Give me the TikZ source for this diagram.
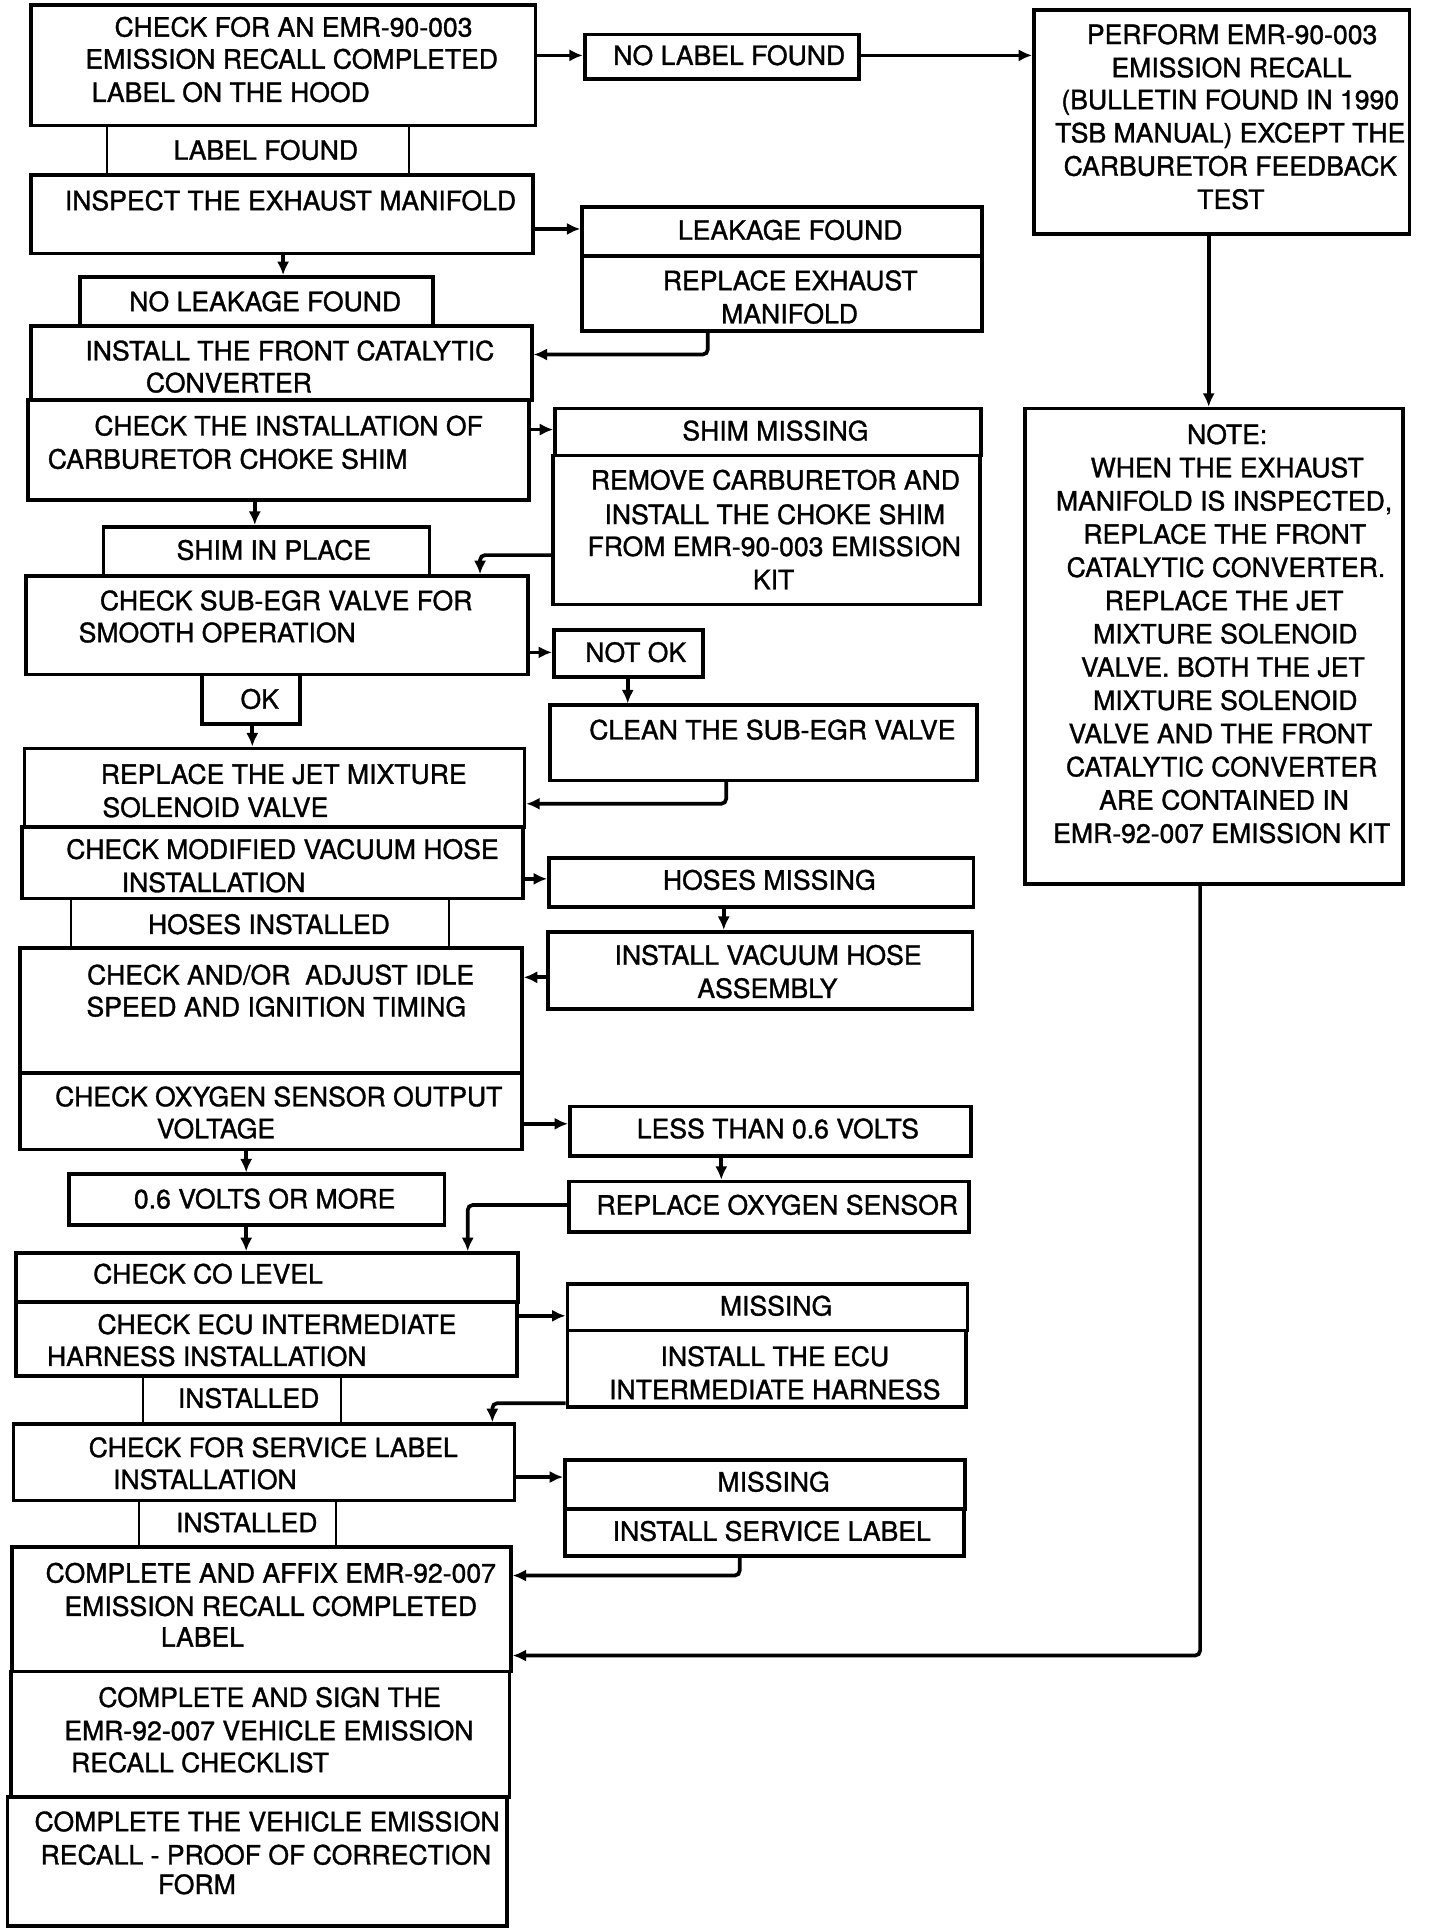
\documentclass[tikz,border=0pt]{standalone}
\usepackage{fontspec}
\setmainfont[FakeBold=1.2]{TeX Gyre Heros}
\usetikzlibrary{fit,arrows.meta}
\tikzset{
  mainbox/.style={draw, line width=1.5pt, inner sep=0pt},
  thinbox/.style={draw, line width=0.8pt, inner sep=0pt},
  txt/.style={anchor=base, inner sep=0pt, font=\fontsize{10.8}{13.35}\selectfont},
  arr/.style={line width=1.5pt, -{Latex[length=5.5pt,width=5pt]}, rounded corners=2pt},
}
\newcommand\bx[6][mainbox]{\node[#1, fit={(#3,#4)(#5,#6)}] (#2) {};}
\newcommand\tl[4]{\node[txt] (#1) at (#2,#3+7.75) {#4};}
\begin{document}
\begin{tikzpicture}[x=0.5pt,y=-0.5pt]
\useasboundingbox (0,0) rectangle (1170,1568);
% thin label boxes
\bx[thinbox]{LFd}{87}{102}{332}{142}
\bx[thinbox]{HI}{58}{730}{365}{770}
\bx[thinbox]{IN1}{116}{1118}{277}{1157}
\bx[thinbox]{IN2}{113}{1219}{273}{1257}
% left column
\bx{A}{25}{4}{435}{102}
\bx{B}{25}{142}{433}{206}
\bx{NLK}{65}{225}{352}{265}
\bx{C}{25}{265}{432}{325}
\bx{D}{23}{325}{430}{406}
\bx{SIP}{84}{428}{349}{468}
\bx{E}{21}{468}{429}{548}
\bx{OK}{164}{548}{244}{588}
\bx{F}{20}{608}{426}{672}
\bx{G}{18}{672}{425}{730}
\bx{H}{16}{770}{424}{872}
\bx{I}{16}{872}{424}{934}
\bx{V6}{56}{954}{361}{995}
\bx{J}{13}{1018}{421}{1058}
\bx{K}{13}{1058}{420}{1118}
\bx{L}{11}{1157}{418}{1219}
\bx{M}{10}{1257}{415}{1358}
\bx{N}{9}{1358}{414}{1460}
\bx{O}{6}{1460}{412}{1565}
% middle column
\bx{NLF}{475}{28}{698}{64}
\bx{LF}{473}{168}{798}{208}
\bx{RE}{473}{208}{798}{269}
\bx{SM}{451}{332}{797}{370}
\bx{RC}{449}{370}{796}{491}
\bx{NOK}{450}{512}{571}{550}
\bx{CL}{447}{573}{794}{634}
\bx{HM}{446}{697}{791}{737}
\bx{IVH}{445}{757}{790}{820}
\bx{LT}{463}{899}{789}{939}
\bx{RO}{462}{960}{787}{1001}
\bx{MS1}{461}{1043}{786}{1081}
\bx{IE}{461}{1081}{785}{1143}
\bx{MS2}{459}{1186}{784}{1226}
\bx{ISL}{459}{1226}{783}{1264}
% right column
\bx{P}{840}{8}{1145}{190}
\bx{Q}{833}{332}{1140}{718}

% texts left
\tl{ta1}{238.5}{22}{CHECK FOR AN EMR-90-003}
\tl{ta2}{237}{48}{EMISSION RECALL COMPLETED}
\tl{ta3}{187.5}{75}{LABEL ON THE HOOD}
\tl{tlf}{216}{122}{LABEL FOUND}
\tl{tb1}{236}{163}{INSPECT THE EXHAUST MANIFOLD}
\tl{tnlk}{215.5}{245}{NO LEAKAGE FOUND}
\tl{tc1}{235.5}{285}{INSTALL THE FRONT CATALYTIC}
\tl{tc2}{186}{311}{CONVERTER}
\tl{td1}{234.5}{346}{CHECK THE INSTALLATION OF}
\tl{td2}{185}{373}{CARBURETOR CHOKE SHIM}
\tl{tsip}{222.5}{447}{SHIM IN PLACE}
\tl{te1}{232.5}{488}{CHECK SUB-EGR VALVE FOR}
\tl{te2}{176.5}{514}{SMOOTH OPERATION}
\tl{tok}{211}{568}{OK}
\tl{tf1}{230.5}{629}{REPLACE THE JET MIXTURE}
\tl{tf2}{175}{656}{SOLENOID VALVE}
\tl{tg1}{229.5}{690}{CHECK MODIFIED VACUUM HOSE}
\tl{tg2}{173.5}{717}{INSTALLATION}
\tl{thi}{218.5}{751}{HOSES INSTALLED}
\tl{th1}{228}{792}{CHECK AND/OR\ \ ADJUST IDLE}
\tl{th2}{224.5}{818}{SPEED AND IGNITION TIMING}
\tl{ti1}{226.5}{891}{CHECK OXYGEN SENSOR OUTPUT}
\tl{ti2}{175.5}{917}{VOLTAGE}
\tl{tv6}{215}{974}{0.6 VOLTS OR MORE}
\tl{tj1}{169}{1035}{CHECK CO LEVEL}
\tl{tk1}{225}{1076}{CHECK ECU INTERMEDIATE}
\tl{tk2}{168}{1102}{HARNESS INSTALLATION}
\tl{tin1}{202}{1136}{INSTALLED}
\tl{tl1}{222}{1176}{CHECK FOR SERVICE LABEL}
\tl{tl2}{166.5}{1202}{INSTALLATION}
\tl{tin2}{200.5}{1237}{INSTALLED}
\tl{tm1}{220}{1278}{COMPLETE AND AFFIX EMR-92-007}
\tl{tm2}{220}{1305}{EMISSION RECALL COMPLETED}
\tl{tm3}{164.5}{1330}{LABEL}
\tl{tn1}{219}{1379}{COMPLETE AND SIGN THE}
\tl{tn2}{218.5}{1406}{EMR-92-007 VEHICLE EMISSION}
\tl{tn3}{162.5}{1432}{RECALL CHECKLIST}
\tl{to1}{217}{1480}{COMPLETE THE VEHICLE EMISSION}
\tl{to2}{216}{1507}{RECALL - PROOF OF CORRECTION}
\tl{to3}{160}{1531}{FORM}
% texts middle
\tl{tnlf}{592.5}{45}{NO LABEL FOUND}
\tl{tlfd}{642}{187}{LEAKAGE FOUND}
\tl{tre1}{642}{228}{REPLACE EXHAUST}
\tl{tre2}{641.5}{255}{MANIFOLD}
\tl{tsm}{630}{350}{SHIM MISSING}
\tl{trc1}{630}{390}{REMOVE CARBURETOR AND}
\tl{trc2}{629.5}{418}{INSTALL THE CHOKE SHIM}
\tl{trc3}{629}{444}{FROM EMR-90-003 EMISSION}
\tl{trc4}{628.5}{471}{KIT}
\tl{tnok}{516.5}{530}{NOT OK}
\tl{tcl}{627.5}{593}{CLEAN THE SUB-EGR VALVE}
\tl{thm}{625}{715}{HOSES MISSING}
\tl{tivh1}{624}{776}{INSTALL VACUUM HOSE}
\tl{tivh2}{623.5}{803}{ASSEMBLY}
\tl{tlt}{632}{917}{LESS THAN 0.6 VOLTS}
\tl{tro}{631.5}{979}{REPLACE OXYGEN SENSOR}
\tl{tms1}{630.5}{1061}{MISSING}
\tl{tie1}{629.5}{1102}{INSTALL THE ECU}
\tl{tie2}{629.5}{1129}{INTERMEDIATE HARNESS}
\tl{tms2}{628.5}{1204}{MISSING}
\tl{tisl}{627}{1244}{INSTALL SERVICE LABEL}
% texts right
\tl{tp1}{1001}{28}{PERFORM EMR-90-003}
\tl{tp2}{1000.5}{55}{EMISSION RECALL}
\tl{tp3}{999.5}{81}{(BULLETIN FOUND IN 1990}
\tl{tp4}{999.5}{108}{TSB MANUAL) EXCEPT THE}
\tl{tp5}{999.5}{135}{CARBURETOR FEEDBACK}
\tl{tp6}{1000}{162}{TEST}
\tl{tq1}{997}{353}{NOTE:}
\tl{tq2}{997}{380}{WHEN THE EXHAUST}
\tl{tq3}{994.5}{407}{MANIFOLD IS INSPECTED,}
\tl{tq4}{995}{434}{REPLACE THE FRONT}
\tl{tq5}{996}{461}{CATALYTIC CONVERTER.}
\tl{tq6}{994.5}{488}{REPLACE THE JET}
\tl{tq7}{995.5}{515}{MIXTURE SOLENOID}
\tl{tq8}{993.5}{542}{VALVE. BOTH THE JET}
\tl{tq9}{995.5}{569}{MIXTURE SOLENOID}
\tl{tq10}{991.5}{596}{VALVE AND THE FRONT}
\tl{tq11}{992.5}{623}{CATALYTIC CONVERTER}
\tl{tq12}{994.5}{650}{ARE CONTAINED IN}
\tl{tq13}{992.5}{677}{EMR-92-007 EMISSION KIT}

% connector coordinates
\coordinate (h1) at (0,45);
\coordinate (h2) at (0,186);
\coordinate (h3) at (0,349);
\coordinate (h4) at (0,530);
\coordinate (h5) at (0,714);
\coordinate (h6) at (0,794);
\coordinate (h7) at (0,913);
\coordinate (h8) at (0,1069);
\coordinate (h9) at (0,1200);
\coordinate (k1) at (575,288);
\coordinate (k2) at (390,451);
\coordinate (k3) at (510,560);
\coordinate (k4) at (590,653);
\coordinate (k5) at (588,747);
\coordinate (k7) at (586,950);
\coordinate (k8) at (380,979);
\coordinate (k9) at (400,1140);
\coordinate (k10) at (601,1280);
\coordinate (k11) at (982,260);
\coordinate (k12) at (975,1345);
\coordinate (k13) at (230,215);
\coordinate (k14) at (207,417);
\coordinate (k15) at (205,598);
\coordinate (k16) at (200,944);
\coordinate (k17) at (200,1006);

% horizontal arrows
\draw[arr] (A.east |- h1) -- (NLF.west |- h1);
\draw[arr] (NLF.east |- h1) -- (P.west |- h1);
\draw[arr] (B.east |- h2) -- (LF.west |- h2);
\draw[arr] (D.east |- h3) -- (SM.west |- h3);
\draw[arr] (E.east |- h4) -- (NOK.west |- h4);
\draw[arr] (G.east |- h5) -- (HM.west |- h5);
\draw[arr] (IVH.west |- h6) -- (H.east |- h6);
\draw[arr] (I.east |- h7) -- (LT.west |- h7);
\draw[arr] (K.east |- h8) -- (MS1.west |- h8);
\draw[arr] (L.east |- h9) -- (MS2.west |- h9);
% vertical arrows
\draw[arr] (B.south -| k13) -- (NLK.north -| k13);
\draw[arr] (D.south -| k14) -- (SIP.north -| k14);
\draw[arr] (OK.south -| k15) -- (F.north -| k15);
\draw[arr] (I.south -| k16) -- (V6.north -| k16);
\draw[arr] (V6.south -| k17) -- (J.north -| k17);
\draw[arr] (NOK.south -| k3) -- (CL.north -| k3);
\draw[arr] (HM.south -| k5) -- (IVH.north -| k5);
\draw[arr] (LT.south -| k7) -- (RO.north -| k7);
\draw[arr] (P.south -| k11) -- (Q.north -| k11);
% elbow arrows
\draw[arr] (RE.south -| k1) |- (C.east |- k1);
\draw[arr] (RC.west |- k2) -| (E.north -| k2);
\draw[arr] (CL.south -| k4) |- (F.east |- k4);
\draw[arr] (RO.west |- k8) -| (J.north -| k8);
\draw[arr] (IE.west |- k9) -| (L.north -| k9);
\draw[arr] (ISL.south -| k10) |- (M.east |- k10);
\draw[arr] (Q.south -| k12) |- (M.east |- k12);
\end{tikzpicture}
\end{document}
